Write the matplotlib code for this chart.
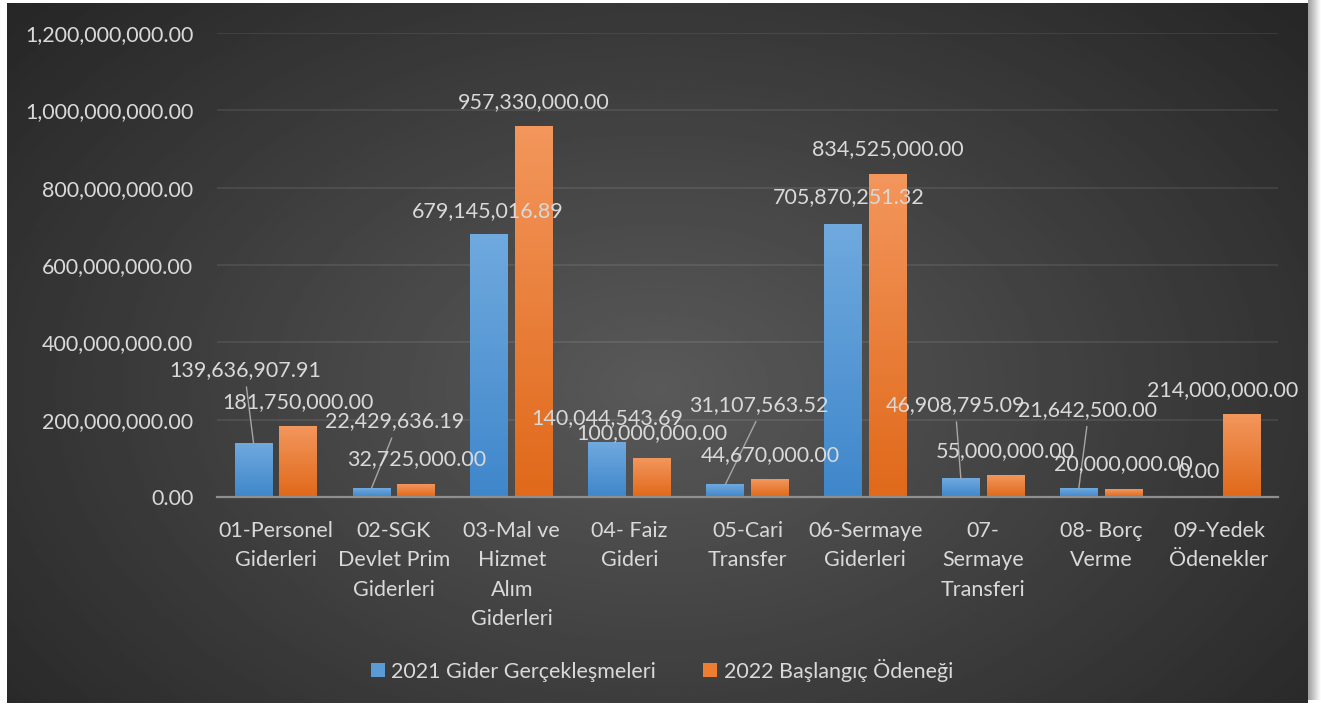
import matplotlib
matplotlib.use('Agg')
import matplotlib.pyplot as plt
import numpy as np
from matplotlib.colors import LinearSegmentedColormap
from matplotlib.patches import Patch

plt.rcParams['font.family'] = ['Lato', 'DejaVu Sans']

categories = ['01-Personel\nGiderleri', '02-SGK\nDevlet Prim\nGiderleri',
              '03-Mal ve\nHizmet\nAlım\nGiderleri', '04- Faiz\nGideri',
              '05-Cari\nTransfer', '06-Sermaye\nGiderleri',
              '07-\nSermaye\nTransferi', '08- Borç\nVerme', '09-Yedek\nÖdenekler']
seriesNames = ['2021 Gider Gerçekleşmeleri', '2022 Başlangıç Ödeneği']
gider2021 = [139636907.91, 22429636.19, 679145016.89, 140044543.69, 31107563.52,
             705870251.32, 46908795.09, 21642500.00, 0.00]
odenek2022 = [181750000.00, 32725000.00, 957330000.00, 100000000.00, 44670000.00,
              834525000.00, 55000000.00, 20000000.00, 214000000.00]
yTicks = [0, 200000000, 400000000, 600000000, 800000000, 1000000000, 1200000000]

# data label offsets in pixels from the bar top, and whether a leader line is drawn
off2021 = [(-8, 73), (23, 67), (-2, 23), (0, 25), (34, 80), (6, 27), (-5, 74), (9, 79), (2, 25)]
lead2021 = [True, True, False, False, True, False, True, True, False]
off2022 = [(0, 25)] * 8 + [(-19, 24)]

TXT = '#d9d9d9'
FS = 15.5
W, H = 1321, 706
fig = plt.figure(figsize=(W / 100, H / 100), dpi=100)
fig.patch.set_facecolor('white')

# dark panel, radial gradient like the excel style
bg = fig.add_axes([7 / W, 3 / H, (1308 - 7) / W, (703 - 3) / H])
yy, xx = np.mgrid[0:1:300j, 0:1:600j]
r = np.clip(np.sqrt(((xx - 0.5) / 0.65) ** 2 + ((yy - 0.55) / 0.8) ** 2), 0, 1)
shade = 0.155 + (0.35 - 0.155) * (1 - r)
bg.imshow(shade, cmap='gray', vmin=0, vmax=1, extent=(0, 1, 0, 1), aspect='auto')
bg.axis('off')

# soft shadow on the right
sh = fig.add_axes([1308 / W, 6 / H, 12 / W, 700 / H])
sh.imshow(np.linspace(0.62, 1, 50).reshape(1, -1), cmap='gray', vmin=0, vmax=1,
          extent=(0, 1, 0, 1), aspect='auto')
sh.axis('off')

ax = fig.add_axes([217 / W, (H - 497) / H, (1278 - 217) / W, (497 - 33) / H])
ax.patch.set_alpha(0)
x = np.arange(len(categories))
bw = 0.32
b1 = ax.bar(x - 0.19, gider2021, bw, color='#5b9bd5', zorder=2)
b2 = ax.bar(x + 0.19, odenek2022, bw, color='#ed7d31', zorder=2)


def gradientBars(ax, bars, top, bottom):
    cmap = LinearSegmentedColormap.from_list('g', [bottom, top])
    grad = np.linspace(1, 0, 64).reshape(-1, 1)
    for b in bars:
        x0, y0, w, h = b.get_x(), b.get_y(), b.get_width(), b.get_height()
        if h <= 0:
            continue
        ax.imshow(grad, cmap=cmap, vmin=0, vmax=1, extent=(x0, x0 + w, y0, y0 + h),
                  aspect='auto', origin='upper', zorder=2.1)


gradientBars(ax, b1, '#6fa9de', '#3f87cb')
gradientBars(ax, b2, '#f3965c', '#e0691a')

ax.set_xlim(-0.5, len(categories) - 0.5)
ax.set_ylim(0, 1200000000)
ax.set_yticks(yTicks)
ax.set_yticklabels(['{:,.2f}'.format(t) for t in yTicks])
ax.set_xticks(x, categories, linespacing=1.6)
ax.tick_params(axis='y', length=0, colors=TXT, labelsize=FS, pad=17)
ax.tick_params(axis='x', length=0, colors=TXT, labelsize=FS, pad=17)
for s in ['top', 'right', 'left']:
    ax.spines[s].set_visible(False)
ax.spines['bottom'].set_color('#8f8f8f')
ax.spines['bottom'].set_linewidth(1.6)
ax.spines['bottom'].set_zorder(3)
ax.yaxis.grid(True, color='white', alpha=0.09, lw=1.3)
ax.set_axisbelow(True)

for vals, bars, offs, leads in [(gider2021, b1, off2021, lead2021),
                                (odenek2022, b2, off2022, [False] * 9)]:
    for v, b, (dx, dy), ld in zip(vals, bars, offs, leads):
        xc = b.get_x() + b.get_width() / 2
        arrow = None
        if ld:
            arrow = dict(arrowstyle='-', color='#a6a6a6', lw=1, shrinkA=3, shrinkB=0,
                         relpos=(0.5, 0))
        ax.annotate('{:,.2f}'.format(v), xy=(xc, v), xytext=(dx, dy),
                    textcoords='offset pixels', ha='center', va='center',
                    fontsize=FS, color=TXT, arrowprops=arrow, annotation_clip=False,
                    zorder=4)

fig.legend(handles=[Patch(fc='#5b9bd5'), Patch(fc='#ed7d31')], labels=seriesNames,
           loc='center', bbox_to_anchor=(662 / W, 1 - 670 / H), ncol=2, frameon=False,
           fontsize=FS, labelcolor=TXT, handlelength=0.65, handleheight=0.65,
           handletextpad=0.3, columnspacing=2.2)

fig.savefig('out.png', dpi=100)
